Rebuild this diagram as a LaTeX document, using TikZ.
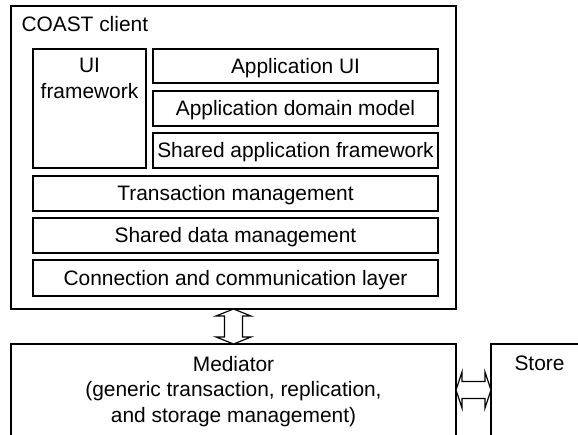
\documentclass[tikz,border=0pt]{standalone}
\usepackage{fontspec}
\setmainfont{Liberation Sans}
\usetikzlibrary{calc}
\begin{document}
\begin{tikzpicture}[x=1pt,y=-1pt,
  every node/.style={font=\fontsize{20.9}{25.5}\selectfont, inner sep=0pt, outer sep=0pt},
  frame/.style={draw, line width=1.3pt},
  layer/.style={draw, line width=1.2pt, text height=14.6pt, text depth=0pt},
  txt/.style={align=center},
  blockarrow/.style={draw, line width=1.2pt, fill=white, line join=miter}]
\clip (0,0) rectangle (578,435);
% client frame
\node[frame, minimum width=445pt, minimum height=303pt] (client) at (233.5,157.5) {};
\node[anchor=base west] (clientlabel) at (21.5,31.7) {COAST client};
% inner layers
\node[layer, minimum width=113pt, minimum height=119pt] (ui) at (89.5,108.5) {};
\node[txt, anchor=north] (uitext) at ($(ui.north)+(0,9.3)$) {UI\\framework};
\node[layer, minimum width=285pt, minimum height=34pt] (appui) at (295.5,66) {Application UI};
\node[layer, minimum width=285pt, minimum height=35pt] (domain) at (295.5,108.5) {Application domain model};
\node[layer, minimum width=285pt, minimum height=35pt] (sharedapp) at (295.5,150.5) {Shared application framework};
\node[layer, minimum width=405pt, minimum height=35pt] (trans) at (235.5,193.5) {Transaction management};
\node[layer, minimum width=405pt, minimum height=35pt] (shareddata) at (235.5,235.5) {Shared data management};
\node[layer, minimum width=405pt, minimum height=36pt] (conn) at (235.5,278) {Connection and communication layer};
% mediator and store (cut off at the bottom / right)
\node[frame, minimum width=445pt, minimum height=116pt] (mediator) at (233.5,402) {};
\node[txt, anchor=north] (medtext) at ($(mediator.north)+(0,12)$) {Mediator\\(generic transaction, replication,\\and storage management)};
\node[frame, minimum width=97pt, minimum height=116pt] (store) at (539.5,402) {};
\node[anchor=base] (storetext) at (539.5,370.5) {Store};
% vertical double block arrow
\draw[blockarrow] (client.south) -- ++(17.5,7) -- ++(-8.5,0) -- ++(0,21) -- ++(8.5,0)
  -- (mediator.north) -- ++(-17.5,-7) -- ++(8.5,0) -- ++(0,-21) -- ++(-8.5,0) -- cycle;
% horizontal double block arrow
\coordinate (hl) at ($(mediator.north east)+(0,46)$);
\coordinate (hr) at ($(store.north west)+(0,46)$);
\draw[blockarrow] (hl) -- ++(6,-18) -- ++(0,9.5) -- ++(23,0) -- ++(0,-9.5)
  -- (hr) -- ++(-6,18) -- ++(0,-9.5) -- ++(-23,0) -- ++(0,9.5) -- cycle;
\end{tikzpicture}
\end{document}
